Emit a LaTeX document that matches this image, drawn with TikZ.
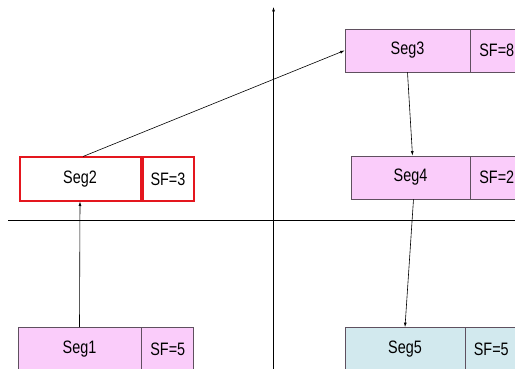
\documentclass[tikz,border=0pt]{standalone}
\usepackage{fontspec}
\setmainfont{Liberation Sans}[FakeStretch=0.8]
\usetikzlibrary{arrows.meta}
\definecolor{segpink}{RGB}{250,204,250}
\definecolor{segblue}{RGB}{210,233,238}
\definecolor{segborder}{RGB}{95,80,95}
\definecolor{segred}{RGB}{228,22,30}

\begin{document}
\begin{tikzpicture}[x=1pt,y=-1pt,
  segbox/.style={draw=segborder, line width=0.8pt, fill=segpink, minimum height=43pt,
    inner sep=0pt, font=\fontsize{18}{18}\selectfont},
  sfbox/.style={segbox, minimum width=52pt, anchor=west},
  link/.style={-{Latex[length=4.5pt,width=3pt]}, line width=0.6pt}]
\useasboundingbox (0,0) rectangle (515,369);

% Achsen
\coordinate (ytop) at (273.5,7);
\coordinate (ybot) at (273.5,372);
\coordinate (xleft) at (8,220);
\coordinate (xright) at (520,220);
\draw[link] (ybot) -- (ytop);
\draw[line width=0.6pt] (xleft) -- (xright);

% linke Seite
\node[segbox, minimum width=123pt] (seg1) at (79.5,349) {Seg1};
\node[sfbox] (sf1) at (seg1.east) {SF=5};
\node[segbox, fill=white, draw=segred, line width=2pt, minimum width=121pt] (seg2) at (80,179) {Seg2};
\node[sfbox, fill=white, draw=segred, line width=2pt, minimum width=51pt] (sf2) at (seg2.east) {SF=3};

% rechte Seite
\node[segbox, minimum width=125pt] (seg3) at (407.5,50.5) {Seg3};
\node[sfbox] (sf3) at (seg3.east) {SF=8};
\node[segbox, minimum width=119pt] (seg4) at (410.5,177.5) {Seg4};
\node[sfbox] (sf4) at (seg4.east) {SF=2};
\node[segbox, fill=segblue, minimum width=120pt] (seg5) at (405,349) {Seg5};
\node[sfbox, fill=segblue, minimum width=51pt] (sf5) at (seg5.east) {SF=5};

% Verbindungen
\draw[link] (seg1.north) -- (seg2.south);
\draw[link] ([xshift=3pt]seg2.north) -- (seg3.west);
\draw[link] (seg3.south) -- ([xshift=2pt]seg4.north);
\draw[link] ([xshift=3pt]seg4.south) -- (seg5.north);
\end{tikzpicture}
\end{document}
